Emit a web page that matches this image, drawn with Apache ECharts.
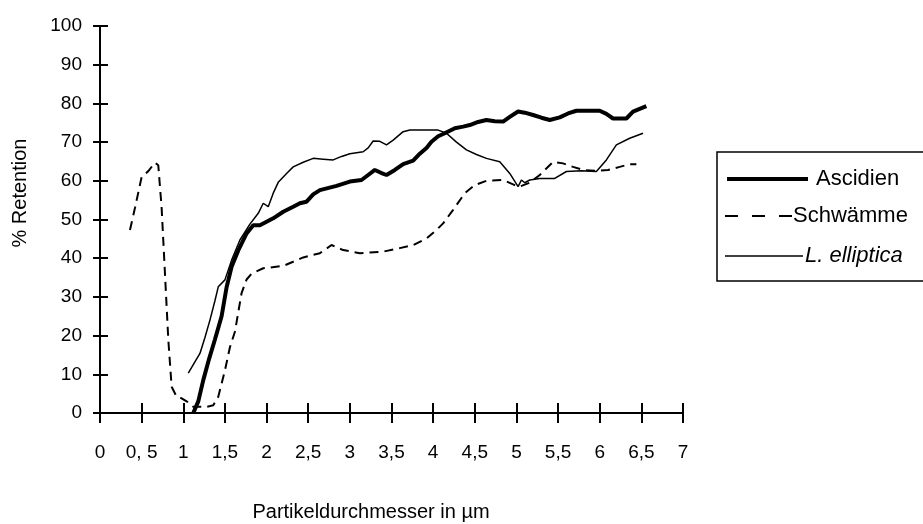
<!DOCTYPE html>
<html>
<head>
<meta charset="utf-8">
<script src="https://cdn.jsdelivr.net/npm/echarts@6/dist/echarts.min.js"></script>
<style>
html,body{margin:0;padding:0;background:#fff;}
#c{width:923px;height:524px;}
</style>
</head>
<body>
<div id="c"></div>
<script>
// ---- data (x = particle diameter in µm, y = % retention) ----
const seriesNames = ['Ascidien', 'Schwämme', 'L. elliptica'];
const xTickLabels = ['0','0, 5','1','1,5','2','2,5','3','3,5','4','4,5','5','5,5','6','6,5','7'];
const yTickLabels = ['0','10','20','30','40','50','60','70','80','90','100'];

const ascidien = [[1.12,0],[1.18,3],[1.24,8.5],[1.31,14],[1.38,19],[1.46,25],[1.52,32.5],[1.58,37.8],[1.66,42],[1.76,46.4],[1.84,48.5],[1.92,48.5],[2.0,49.4],[2.08,50.3],[2.2,52],[2.32,53.3],[2.4,54.2],[2.48,54.6],[2.56,56.5],[2.64,57.6],[2.84,58.7],[3.0,59.8],[3.14,60.2],[3.22,61.5],[3.3,62.8],[3.38,62],[3.44,61.5],[3.54,62.8],[3.64,64.3],[3.76,65.2],[3.84,67],[3.92,68.5],[3.98,70.1],[4.06,71.5],[4.14,72.3],[4.26,73.6],[4.36,74],[4.44,74.4],[4.54,75.2],[4.64,75.7],[4.74,75.4],[4.84,75.3],[4.92,76.5],[5.02,77.9],[5.1,77.6],[5.2,77],[5.3,76.3],[5.4,75.7],[5.52,76.4],[5.62,77.4],[5.72,78.1],[5.86,78.1],[6.0,78.1],[6.08,77.3],[6.16,76.1],[6.24,76.1],[6.32,76.1],[6.4,77.9],[6.48,78.6],[6.56,79.3]];

const schwaemme = [[0.36,47.3],[0.42,53],[0.5,61],[0.58,62.5],[0.66,64.7],[0.7,64],[0.74,53],[0.78,36],[0.82,19],[0.86,6.8],[0.92,4.2],[0.98,3.8],[1.04,3],[1.08,2.5],[1.12,1.6],[1.2,1.6],[1.28,1.6],[1.36,2],[1.42,4.2],[1.5,11],[1.56,17],[1.62,21],[1.66,26],[1.7,31],[1.76,34.5],[1.82,36],[1.96,37.4],[2.2,38],[2.44,40.2],[2.64,41.3],[2.78,43.4],[2.92,42.1],[3.12,41.3],[3.4,41.7],[3.6,42.6],[3.76,43.4],[3.92,45.1],[4.04,47.3],[4.12,49],[4.24,52.5],[4.38,56.8],[4.5,58.9],[4.64,60],[4.84,60.2],[4.98,58.9],[5.04,58.5],[5.16,59.5],[5.28,61.5],[5.44,64.9],[5.56,64.5],[5.68,63.6],[5.8,62.8],[5.96,62.6],[6.1,62.8],[6.24,63.6],[6.36,64.3],[6.44,64.3]];

const lElliptica = [[1.06,10.3],[1.12,12.5],[1.2,15.4],[1.26,19.5],[1.32,24],[1.38,29],[1.42,32.6],[1.5,34.4],[1.58,39.5],[1.68,44.7],[1.8,48.8],[1.9,51.6],[1.96,54.2],[2.02,53.3],[2.08,56.8],[2.14,59.6],[2.24,61.9],[2.32,63.6],[2.44,64.8],[2.56,65.8],[2.68,65.6],[2.8,65.4],[2.9,66.3],[3.0,67],[3.16,67.5],[3.22,68.5],[3.28,70.3],[3.36,70.2],[3.44,69.3],[3.52,70.5],[3.64,72.7],[3.72,73.1],[3.9,73.1],[4.06,73.1],[4.16,72.3],[4.28,70],[4.4,68],[4.52,66.8],[4.64,65.8],[4.8,64.9],[4.92,61.9],[5.02,58.5],[5.06,60.2],[5.1,59.5],[5.16,60.2],[5.28,60.6],[5.46,60.6],[5.6,62.4],[5.78,62.6],[5.96,62.4],[6.08,65.4],[6.2,69.3],[6.36,71],[6.52,72.3]];

const xTitle = 'Partikeldurchmesser in µm';
const yTitle = '% Retention';

// ---- chart ----
const FONT = '"Liberation Sans", Arial, Helvetica, sans-serif';
const chart = echarts.init(document.getElementById('c'), null, {renderer: 'canvas'});
const G = {left: 100, top: 26, width: 583, height: 387};

function xAx(gi, inside, labels) {
  return {
    type: 'value', gridIndex: gi, min: 0, max: 7, interval: 0.5, position: 'bottom',
    axisLine: {show: true, onZero: false, lineStyle: {color: '#000', width: 2}},
    axisTick: {show: true, inside: inside, length: 10, lineStyle: {color: '#000', width: 2}},
    axisLabel: {show: labels, margin: 30, fontSize: 19, color: '#000', fontFamily: FONT,
      formatter: v => xTickLabels[Math.round(v * 2)]},
    splitLine: {show: false}
  };
}
function yAx(gi, inside, labels) {
  return {
    type: 'value', gridIndex: gi, min: 0, max: 100, interval: 10, position: 'left',
    axisLine: {show: true, onZero: false, lineStyle: {color: '#000', width: 2}},
    axisTick: {show: true, inside: inside, length: inside ? 8 : 7, lineStyle: {color: '#000', width: 2}},
    axisLabel: {show: labels, margin: 18, fontSize: 19, color: '#000', fontFamily: FONT,
      formatter: v => yTickLabels[Math.round(v / 10)]},
    splitLine: {show: false}
  };
}

const legendItems = [
  {y: 179, x1: 727, x2: 808, tx: 816, w: 4, dash: null, italic: false},
  {y: 216, x1: 725, x2: 792, tx: 793, w: 2, dash: [13, 14], italic: false},
  {y: 256, x1: 725, x2: 803, tx: 805, w: 1.5, dash: null, italic: true}
];
const graphics = [
  {type: 'text', position: [20, 193], rotation: Math.PI / 2,
    style: {text: yTitle, font: '20px ' + FONT, fill: '#000', textAlign: 'center', textVerticalAlign: 'middle'}},
  {type: 'text', position: [371, 512],
    style: {text: xTitle, font: '20px ' + FONT, fill: '#000', textAlign: 'center', textVerticalAlign: 'middle'}},
  {type: 'rect', shape: {x: 717, y: 152, width: 240, height: 129},
    style: {fill: '#fff', stroke: '#000', lineWidth: 1.5}}
];
legendItems.forEach((it, i) => {
  graphics.push({type: 'line', shape: {x1: it.x1, y1: it.y, x2: it.x2, y2: it.y},
    style: {stroke: '#000', lineWidth: it.w, lineDash: it.dash || null}});
  graphics.push({type: 'text', position: [it.tx, it.y],
    style: {text: seriesNames[i], font: (it.italic ? 'italic ' : '') + '22px ' + FONT, fill: '#000', textVerticalAlign: 'middle'}});
});

chart.setOption({
  animation: false,
  backgroundColor: '#fff',
  grid: [Object.assign({}, G), Object.assign({}, G)],
  xAxis: [xAx(0, false, true), xAx(1, true, false)],
  yAxis: [yAx(0, false, true), yAx(1, true, false)],
  series: [
    {name: seriesNames[0], type: 'line', data: ascidien, showSymbol: false, z: 5,
      lineStyle: {color: '#000', width: 4}, itemStyle: {color: '#000'}},
    {name: seriesNames[1], type: 'line', data: schwaemme, showSymbol: false, z: 3,
      lineStyle: {color: '#000', width: 2, type: [9, 6]}, itemStyle: {color: '#000'}},
    {name: seriesNames[2], type: 'line', data: lElliptica, showSymbol: false, z: 4,
      lineStyle: {color: '#000', width: 1.5}, itemStyle: {color: '#000'}},
    // invisible helper series so the second (inner-tick) axis pair is rendered
    {name: 'ticks', type: 'line', xAxisIndex: 1, yAxisIndex: 1, data: ascidien, silent: true,
      showSymbol: false, lineStyle: {opacity: 0}, itemStyle: {opacity: 0}, tooltip: {show: false}}
  ],
  graphic: graphics
});
</script>
</body>
</html>
